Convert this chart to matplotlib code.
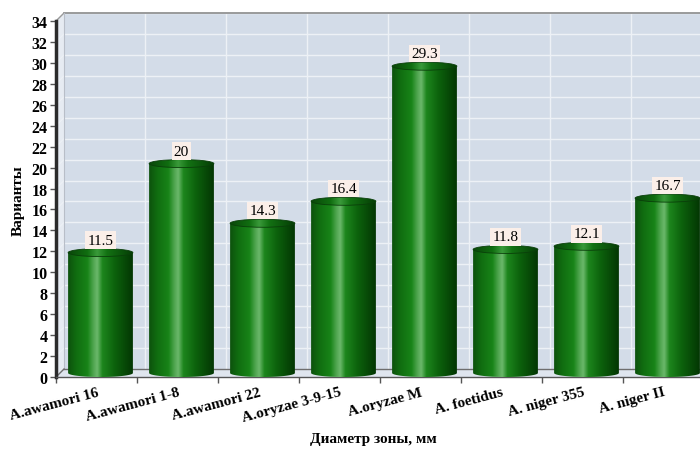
import matplotlib.pyplot as plt
import numpy as np
from matplotlib.colors import LinearSegmentedColormap
from matplotlib.patches import Polygon, PathPatch, Ellipse
from matplotlib.path import Path

strains = ['A.awamori 16', 'A.awamori 1-8', 'A.awamori 22', 'A.oryzae 3-9-15',
           'A.oryzae M', 'A. foetidus', 'A. niger 355', 'A. niger II']
zone = [11.5, 20, 14.3, 16.4, 29.3, 11.8, 12.1, 16.7]
y_max = 34

plt.rcParams['font.family'] = ['Liberation Serif', 'DejaVu Serif']

W, H = 700, 452
fig = plt.figure(figsize=(W / 100, H / 100), dpi=100)
# front plane of the pseudo-3D box, in pixels
left, bottom, cat_px, ax_h = 56, 74, 81, 356
n = len(zone)
ax = fig.add_axes([left / W, bottom / H, n * cat_px / W, ax_h / H])
ax.set_xlim(0, n)
ax.set_ylim(0, y_max)
ax.set_facecolor('none')

# depth offset of the back wall (8 px) in data units
depth = 8
dx = depth / cat_px
dy = depth * y_max / ax_h

wall = '#d3dce8'
grid = '#edf1f6'
# back wall
ax.add_patch(Polygon([(dx, dy), (n + dx, dy), (n + dx, y_max + dy), (dx, y_max + dy)],
                     closed=True, fc=wall, ec='none', clip_on=False, zorder=0))
# left side wall
ax.add_patch(Polygon([(0, 0), (dx, dy), (dx, y_max + dy), (0, y_max)],
                     closed=True, fc='#e6ebf2', ec='none', clip_on=False, zorder=0))
# floor
ax.add_patch(Polygon([(0, 0), (n, 0), (n + dx, dy), (dx, dy)],
                     closed=True, fc='#dfe5ee', ec='none', clip_on=False, zorder=0))

for k in np.arange(2, y_max + 1, 2):
    ax.plot([dx, n + dx], [k + dy, k + dy], color=grid, lw=1, zorder=1, clip_on=False)
    ax.plot([0, dx], [k, k + dy], color=grid, lw=0.8, zorder=1, clip_on=False)
for i in range(1, n + 1):
    ax.plot([i + dx, i + dx], [dy, y_max + dy], color=grid, lw=1, zorder=1, clip_on=False)

# wall edges
ax.plot([dx, n + dx], [y_max + dy, y_max + dy], color='#8a8a8a', lw=1.2, zorder=1, clip_on=False)
ax.plot([0, dx], [y_max, y_max + dy], color='#9a9a9a', lw=1, zorder=1, clip_on=False)
ax.plot([dx, dx], [dy, y_max + dy], color='#b8bec8', lw=0.8, zorder=1, clip_on=False)
ax.plot([dx, n + dx], [dy, dy], color='#6e6e6e', lw=1, zorder=1, clip_on=False)
ax.plot([0, dx], [0, dy], color='#6e6e6e', lw=1, zorder=1, clip_on=False)

body_cmap = LinearSegmentedColormap.from_list('body', [
    (0.0, '#0d520d'), (0.12, '#106c10'), (0.3, '#188418'), (0.39, '#4fa54f'),
    (0.45, '#6bb86b'), (0.53, '#1d861d'), (0.72, '#0c620c'), (1.0, '#033603')])
top_cmap = LinearSegmentedColormap.from_list('top', [
    (0.0, '#0a470a'), (0.3, '#106e10'), (0.45, '#3a9a3a'), (0.6, '#137213'),
    (1.0, '#053d05')])
grad = np.linspace(0, 1, 256).reshape(1, -1)

bar_w = 0.8
ell_h = 4 * y_max / ax_h  # semi-height of the cylinder ellipses
t = np.linspace(0, np.pi, 60)

for i, v in enumerate(zone):
    cx = i + 0.5 + dx / 2
    y0 = dy / 2
    y1 = v + dy / 2
    xl, xr = cx - bar_w / 2, cx + bar_w / 2
    # body: sides plus the lower half of the base ellipse
    verts = np.vstack([[(xl, y1), (xr, y1)],
                       np.column_stack([cx + bar_w / 2 * np.cos(t),
                                        y0 - ell_h * np.sin(t)]),
                       [(xl, y1)]])
    body = PathPatch(Path(verts), fc='none', ec='none')
    ax.add_patch(body)
    im = ax.imshow(grad, cmap=body_cmap, aspect='auto', extent=[xl, xr, y0 - ell_h, y1],
                   zorder=3, interpolation='bilinear')
    im.set_clip_path(body)

    top = Ellipse((cx, y1), bar_w, 2 * ell_h, fc='none', ec='none')
    ax.add_patch(top)
    im2 = ax.imshow(grad, cmap=top_cmap, aspect='auto',
                    extent=[xl, xr, y1 - ell_h, y1 + ell_h], zorder=4,
                    interpolation='bilinear')
    im2.set_clip_path(top)
    ax.add_patch(Ellipse((cx, y1), bar_w, 2 * ell_h, fc='none', ec='#0a3f0a',
                         lw=0.6, zorder=5))

    ax.annotate(f'{v:g}', (cx, y1 + ell_h), xytext=(0, 1.5), textcoords='offset points',
                ha='center', va='bottom', fontsize=11, zorder=6,
                bbox=dict(boxstyle='square,pad=0.15', fc='#fbefe9', ec='none'))

ax.set_xlim(0, n)
ax.set_ylim(0, y_max)

ax.spines['top'].set_visible(False)
ax.spines['right'].set_visible(False)
ax.spines['left'].set_color('#2b2b2b')
ax.spines['left'].set_linewidth(2.5)
ax.spines['bottom'].set_color('#555555')
ax.spines['bottom'].set_linewidth(1)

ax.set_yticks(np.arange(0, y_max + 1, 2))
ax.tick_params(axis='y', length=4, width=1, color='#555555', pad=2, labelsize=11.5)
for lab in ax.get_yticklabels():
    lab.set_fontweight('bold')

ax.set_xticks(np.arange(n) + 0.5)
ax.set_xticklabels(strains, rotation=15, ha='right', rotation_mode='anchor',
                   fontsize=11, fontweight='bold')
ax.tick_params(axis='x', which='major', length=0, pad=6)
ax.set_xticks(np.arange(n + 1), minor=True)
ax.tick_params(axis='x', which='minor', length=4, width=1, color='#555555')

fig.text(373 / W, 1 - 440 / H, 'Диаметр зоны, мм', ha='center', va='center',
         fontsize=11, fontweight='bold')
fig.text(18 / W, 1 - 201 / H, 'Варианты', ha='center', va='center', rotation=90,
         fontsize=11, fontweight='bold')

fig.savefig('out.png', dpi=100, facecolor='white')
